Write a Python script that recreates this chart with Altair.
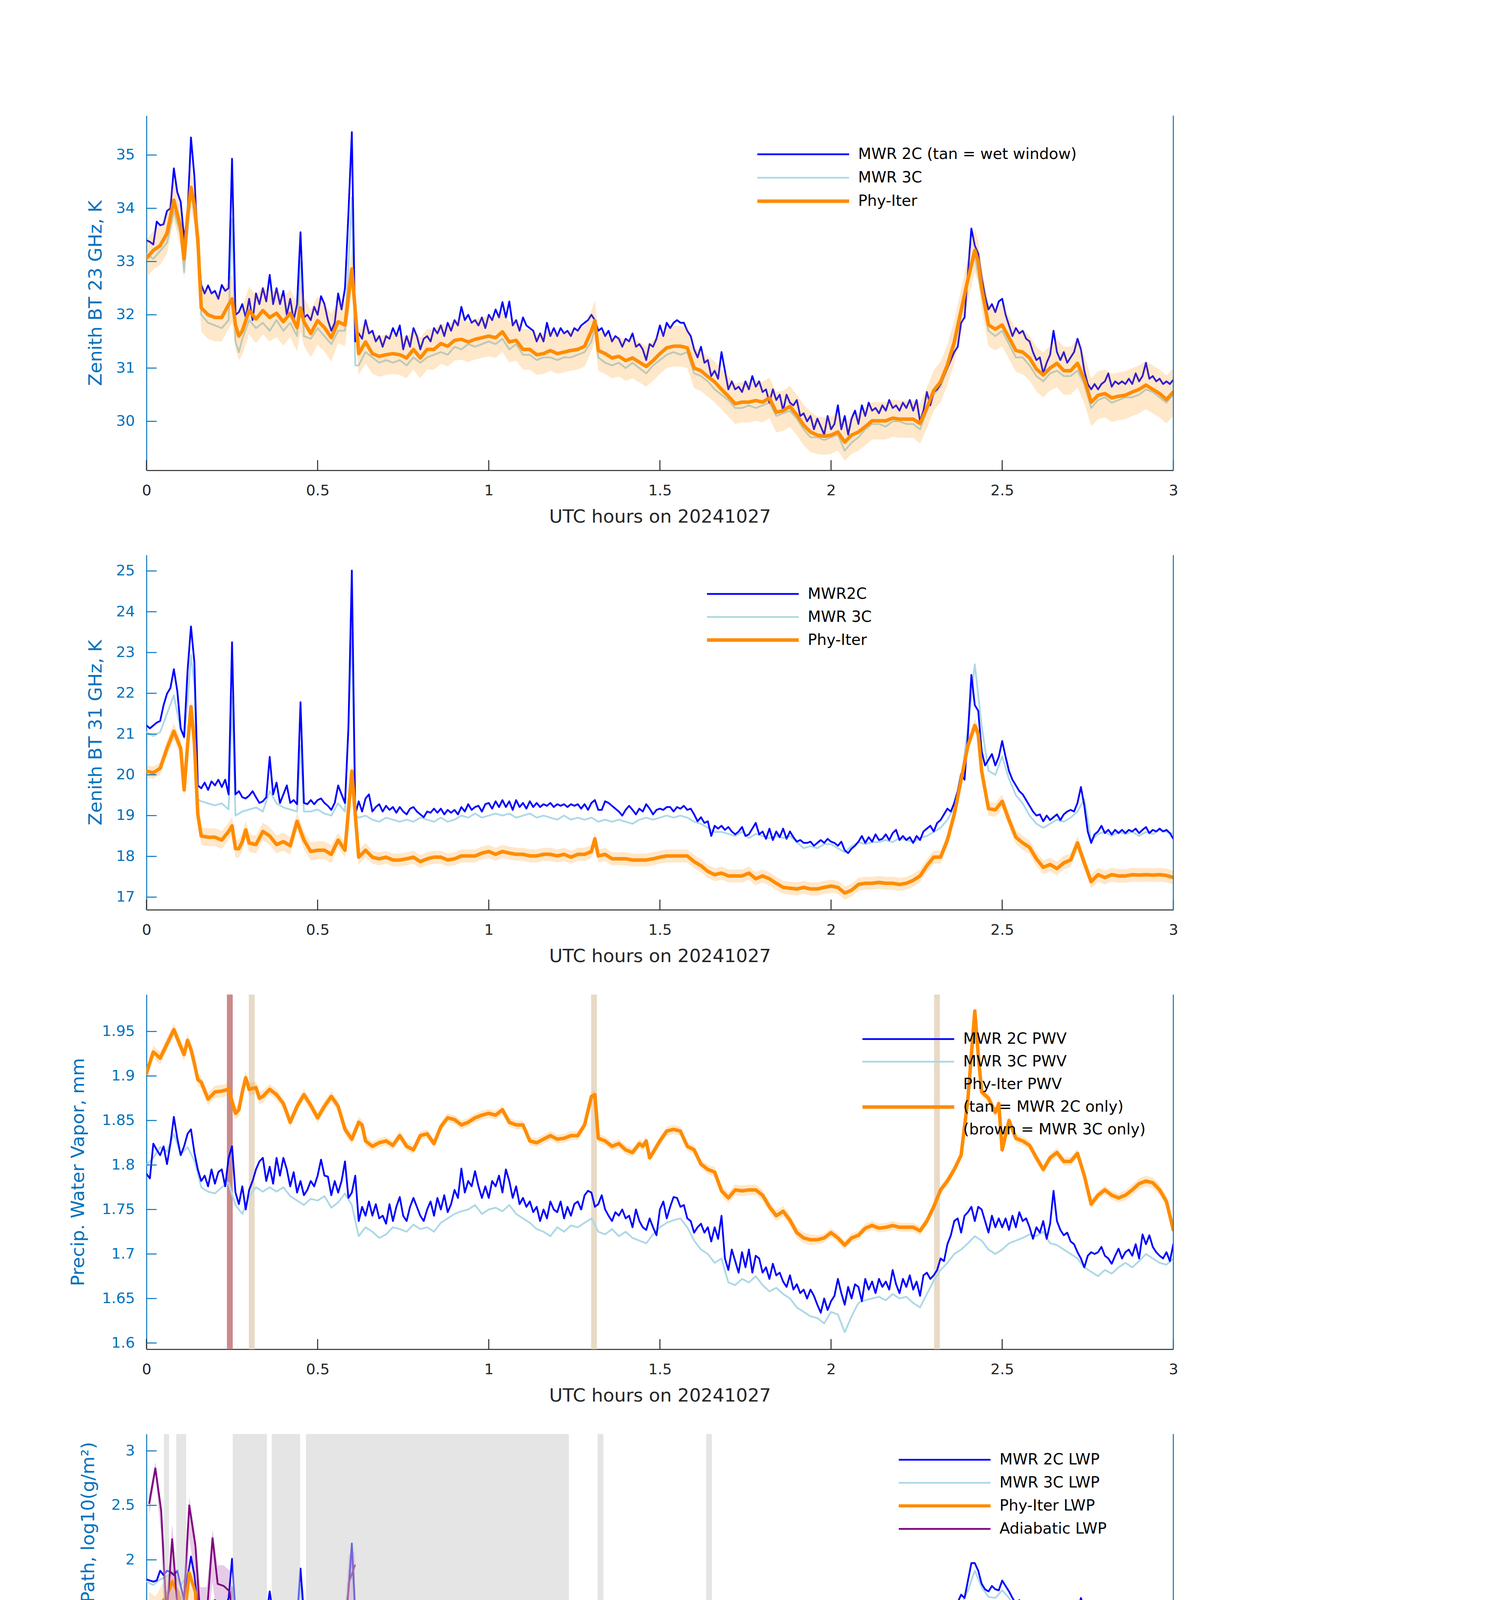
import altair as alt
import pandas as pd

W, H = 2629, 908
FONT = "DejaVu Sans"
AXC = "#0072BD"
DARK = "#262626"
BLUE = "#0000FF"
LBLUE = "#ADD8E6"
ORANGE = "#FF8C00"
PURPLE = "#800080"
TICK_LEN = 26
X_TICKS = [0, 0.5, 1, 1.5, 2, 2.5, 3]
X_TITLE = "UTC hours on 20241027"

# ---------------- Panel 1 : 23 GHz ----------------
P1_BLUE = [  # sampled every 0.01 h
    33.40,33.37,33.32,33.75,33.68,33.70,33.95,34.00,34.75,34.30,
    34.12,33.42,33.90,35.33,34.60,33.30,32.56,32.40,32.55,32.40,
    32.45,32.30,32.56,32.45,32.50,34.93,32.00,32.05,32.20,31.95,
    32.30,31.90,32.40,32.20,32.50,32.25,32.75,32.20,32.50,32.20,
    32.45,32.00,32.30,31.90,32.20,33.55,31.95,32.00,31.90,32.15,
    32.00,32.35,32.20,31.90,31.70,31.85,32.40,32.10,32.50,33.90,
    35.43,31.50,31.65,31.55,31.90,31.65,31.70,31.50,31.60,31.40,
    31.60,31.55,31.75,31.60,31.80,31.35,31.60,31.40,31.75,31.60,
    31.35,31.55,31.60,31.50,31.75,31.65,31.80,31.60,31.85,31.70,
    31.90,31.80,32.15,31.90,32.00,31.85,31.90,31.80,31.95,31.75,
    32.00,31.90,32.10,31.95,32.24,31.95,32.25,31.80,31.90,31.70,
    31.95,31.80,31.75,31.70,31.50,31.65,31.50,31.85,31.60,31.75,
    31.60,31.75,31.65,31.70,31.60,31.75,31.70,31.80,31.85,31.90,
    32.00,31.90,31.70,31.75,31.60,31.70,31.50,31.60,31.55,31.40,
    31.55,31.50,31.65,31.40,31.45,31.35,31.15,31.45,31.40,31.55,
    31.80,31.60,31.85,31.75,31.85,31.90,31.85,31.85,31.70,31.60,
    31.35,31.20,31.40,31.10,31.15,30.85,30.95,30.80,31.30,30.95,
    30.60,30.75,30.60,30.65,30.55,30.75,30.60,30.85,30.65,30.75,
    30.55,30.60,30.35,30.60,30.40,30.50,30.20,30.50,30.35,30.30,
    30.40,30.10,30.15,30.00,30.10,29.85,30.05,29.90,29.75,30.10,
    29.85,29.95,30.30,29.85,30.10,29.75,30.05,30.20,29.95,30.30,
    30.10,30.35,30.20,30.25,30.15,30.30,30.20,30.40,30.25,30.30,
    30.20,30.35,30.25,30.40,30.20,30.40,30.00,30.20,30.55,30.30,
    30.55,30.60,30.70,30.85,31.00,31.15,31.30,31.40,31.85,31.95,
    32.80,33.62,33.30,33.15,32.70,32.35,32.10,32.20,32.05,32.25,
    32.30,32.00,31.80,31.60,31.75,31.65,31.70,31.55,31.50,31.30,
    31.15,31.20,30.90,31.10,31.25,31.70,31.30,31.15,31.30,31.10,
    31.20,31.30,31.55,31.35,30.95,30.70,30.60,30.70,30.60,30.70,
    30.75,30.90,30.65,30.75,30.70,30.75,30.70,30.80,30.70,30.90,
    30.75,30.85,31.10,30.80,30.85,30.75,30.80,30.70,30.75,30.70,
    30.78]

P1_LB = [(0.00,33.15),(0.02,33.05),(0.04,33.20),(0.06,33.35),(0.08,33.95),(0.10,33.50),(0.11,32.80),
    (0.12,33.60),(0.13,34.30),(0.14,33.90),(0.15,33.20),(0.16,32.00),(0.18,31.85),(0.20,31.80),
    (0.22,31.75),(0.24,31.90),(0.25,33.80),(0.26,31.50),(0.27,31.30),(0.28,31.55),(0.30,31.90),
    (0.32,31.75),(0.34,31.85),(0.36,31.70),(0.38,31.90),(0.40,31.70),(0.42,31.85),(0.44,31.60),
    (0.45,33.00),(0.46,31.60),(0.48,31.55),(0.50,31.75),(0.52,31.60),(0.54,31.45),(0.56,31.70),
    (0.58,31.70),(0.60,34.20),(0.61,31.05),(0.62,31.05),(0.64,31.30),(0.66,31.20),(0.68,31.10),
    (0.70,31.15),(0.72,31.10),(0.74,31.15),(0.76,31.05),(0.78,31.20),(0.80,31.10),(0.82,31.20),
    (0.84,31.25),(0.86,31.30),(0.88,31.25),(0.90,31.40),(0.92,31.35),(0.94,31.45),(0.96,31.40),
    (0.98,31.45),(1.00,31.50),(1.02,31.45),(1.04,31.55),(1.06,31.35),(1.08,31.45),(1.10,31.25),
    (1.12,31.25),(1.14,31.15),(1.16,31.20),(1.18,31.20),(1.20,31.15),(1.22,31.20),(1.24,31.20),
    (1.26,31.25),(1.28,31.30),(1.30,31.50),(1.31,31.75),(1.32,31.20),(1.34,31.10),(1.36,31.05),
    (1.38,31.10),(1.40,31.00),(1.42,31.10),(1.44,31.00),(1.46,30.90),(1.48,31.05),(1.50,31.15),
    (1.52,31.25),(1.54,31.30),(1.56,31.25),(1.58,31.30),(1.60,30.90),(1.62,30.85),(1.64,30.75),
    (1.66,30.60),(1.68,30.50),(1.70,30.40),(1.72,30.25),(1.74,30.25),(1.76,30.30),(1.78,30.25),
    (1.80,30.30),(1.82,30.35),(1.84,30.10),(1.86,30.15),(1.88,30.20),(1.90,30.05),(1.92,29.85),
    (1.94,29.70),(1.96,29.70),(1.98,29.65),(2.00,29.70),(2.02,29.75),(2.04,29.45),(2.06,29.60),
    (2.08,29.70),(2.10,29.85),(2.12,29.95),(2.14,29.95),(2.16,29.90),(2.18,30.00),(2.20,30.00),
    (2.22,29.95),(2.24,29.95),(2.26,29.85),(2.28,30.20),(2.30,30.50),(2.32,30.65),(2.34,31.00),
    (2.36,31.40),(2.38,32.00),(2.40,32.60),(2.42,33.10),(2.44,32.40),(2.46,31.70),(2.48,31.60),
    (2.50,31.70),(2.52,31.45),(2.54,31.20),(2.56,31.20),(2.58,31.05),(2.60,30.85),(2.62,30.75),
    (2.64,30.90),(2.66,30.95),(2.68,30.85),(2.70,30.85),(2.72,30.95),(2.74,30.70),(2.76,30.25),
    (2.78,30.40),(2.80,30.45),(2.82,30.35),(2.84,30.40),(2.86,30.45),(2.88,30.45),(2.90,30.50),
    (2.92,30.60),(2.94,30.55),(2.96,30.45),(2.98,30.35),(3.00,30.50)]

P1_OR = [(0.00,33.06),(0.02,33.21),(0.04,33.30),(0.06,33.53),(0.08,34.15),(0.10,33.64),(0.11,33.05),
    (0.12,33.85),(0.13,34.39),(0.14,34.07),(0.15,33.42),(0.16,32.13),(0.18,32.00),(0.20,31.95),
    (0.22,31.95),(0.24,32.19),(0.25,32.30),(0.26,31.81),(0.27,31.60),(0.28,31.70),(0.30,32.08),
    (0.32,31.92),(0.34,32.08),(0.36,31.95),(0.38,32.03),(0.40,31.87),(0.42,32.03),(0.44,31.76),
    (0.45,32.13),(0.46,31.87),(0.48,31.65),(0.50,31.89),(0.52,31.76),(0.54,31.57),(0.56,31.87),
    (0.58,31.81),(0.60,32.86),(0.62,31.27),(0.64,31.49),(0.66,31.27),(0.68,31.22),(0.70,31.25),
    (0.72,31.27),(0.74,31.25),(0.76,31.19),(0.78,31.35),(0.80,31.19),(0.82,31.35),(0.84,31.35),
    (0.86,31.46),(0.88,31.41),(0.90,31.52),(0.92,31.54),(0.94,31.49),(0.96,31.54),(0.98,31.57),
    (1.00,31.60),(1.02,31.57),(1.04,31.68),(1.06,31.49),(1.08,31.52),(1.10,31.35),(1.12,31.35),
    (1.14,31.25),(1.16,31.27),(1.18,31.33),(1.20,31.27),(1.22,31.30),(1.24,31.33),(1.26,31.35),
    (1.28,31.41),(1.30,31.70),(1.31,31.89),(1.32,31.33),(1.34,31.27),(1.36,31.19),(1.38,31.22),
    (1.40,31.14),(1.42,31.19),(1.44,31.11),(1.46,31.03),(1.48,31.14),(1.50,31.27),(1.52,31.38),
    (1.54,31.41),(1.56,31.41),(1.58,31.38),(1.60,31.00),(1.62,30.95),(1.64,30.84),(1.66,30.74),
    (1.68,30.60),(1.70,30.47),(1.72,30.33),(1.74,30.36),(1.76,30.36),(1.78,30.39),(1.80,30.36),
    (1.82,30.44),(1.84,30.17),(1.86,30.20),(1.88,30.28),(1.90,30.12),(1.92,29.93),(1.94,29.80),
    (1.96,29.74),(1.98,29.72),(2.00,29.74),(2.02,29.80),(2.04,29.61),(2.06,29.74),(2.08,29.80),
    (2.10,29.90),(2.12,30.01),(2.14,30.01),(2.16,30.01),(2.18,30.06),(2.20,30.04),(2.22,30.04),
    (2.24,30.04),(2.26,29.96),(2.28,30.25),(2.30,30.58),(2.32,30.74),(2.34,31.06),(2.36,31.49),
    (2.38,32.08),(2.40,32.67),(2.42,33.21),(2.43,33.00),(2.44,32.51),(2.46,31.81),(2.48,31.73),
    (2.50,31.81),(2.52,31.57),(2.54,31.33),(2.56,31.30),(2.58,31.19),(2.60,30.98),(2.62,30.87),
    (2.64,31.00),(2.66,31.09),(2.68,30.95),(2.70,30.95),(2.72,31.09),(2.74,30.79),(2.76,30.36),
    (2.78,30.49),(2.80,30.52),(2.82,30.44),(2.84,30.47),(2.86,30.49),(2.88,30.55),(2.90,30.60),
    (2.92,30.68),(2.94,30.60),(2.96,30.52),(2.98,30.41),(3.00,30.55)]

P1_SIG = [0.36,0.38,0.45,0.45,0.45,0.45,0.40,0.38,0.38,0.38,0.38,0.38,0.38,0.38,0.38,0.38,
          0.38,0.38,0.38,0.38,0.35,0.35,0.35,0.38,0.40,0.40,0.42,0.45,0.45,0.45,0.45]

# ---------------- Panel 2 : 31 GHz ----------------
P2_BLUE = [
    21.21,21.14,21.21,21.28,21.32,21.71,21.99,22.13,22.59,22.06,
    21.14,20.93,22.55,23.64,22.76,19.74,19.67,19.81,19.63,19.84,
    19.74,19.88,19.70,19.88,19.52,23.25,19.52,19.60,19.45,19.42,
    19.49,19.60,19.45,19.31,19.35,19.45,20.44,19.52,19.81,19.31,
    19.52,19.74,19.31,19.38,19.28,21.78,19.31,19.28,19.38,19.28,
    19.38,19.42,19.31,19.24,19.14,19.31,19.74,19.52,19.31,21.14,
    25.01,19.03,19.35,19.10,19.42,19.52,19.10,19.21,19.28,19.10,
    19.24,19.14,19.21,19.07,19.21,19.10,19.03,19.17,19.21,19.10,
    19.03,18.96,19.10,19.07,19.17,19.07,19.17,19.03,19.14,19.07,
    19.14,19.03,19.21,19.10,19.28,19.14,19.21,19.24,19.10,19.28,
    19.31,19.17,19.35,19.21,19.38,19.21,19.35,19.14,19.38,19.21,
    19.31,19.17,19.35,19.21,19.31,19.21,19.28,19.24,19.31,19.21,
    19.28,19.24,19.28,19.21,19.28,19.24,19.28,19.17,19.28,19.14,
    19.31,19.38,19.14,19.14,19.35,19.31,19.24,19.17,19.10,19.00,
    19.14,19.24,19.14,19.03,19.17,19.10,19.28,19.17,19.03,19.14,
    19.17,19.14,19.21,19.21,19.10,19.21,19.17,19.24,19.14,19.17,
    19.03,18.86,18.96,18.82,18.86,18.50,18.75,18.68,18.75,18.65,
    18.72,18.61,18.54,18.61,18.72,18.50,18.54,18.68,18.82,18.54,
    18.61,18.43,18.68,18.40,18.61,18.47,18.68,18.43,18.61,18.47,
    18.36,18.40,18.33,18.33,18.36,18.26,18.33,18.40,18.33,18.43,
    18.36,18.33,18.26,18.36,18.15,18.08,18.19,18.26,18.36,18.50,
    18.33,18.47,18.36,18.54,18.40,18.43,18.54,18.40,18.57,18.65,
    18.40,18.50,18.40,18.47,18.33,18.50,18.40,18.61,18.68,18.75,
    18.61,18.82,18.89,19.03,19.17,19.10,19.31,19.60,20.02,19.88,
    21.00,22.45,21.71,21.57,20.58,20.23,20.37,20.51,20.23,20.44,
    20.83,20.44,20.09,19.88,19.74,19.60,19.52,19.38,19.24,19.10,
    19.00,19.03,18.86,19.00,18.89,18.96,19.03,18.89,19.03,19.10,
    19.14,19.10,19.31,19.70,19.24,18.61,18.33,18.54,18.61,18.75,
    18.57,18.65,18.54,18.65,18.57,18.65,18.57,18.65,18.61,18.68,
    18.57,18.65,18.72,18.57,18.65,18.61,18.68,18.61,18.65,18.57,
    18.43]

P2_LB = [(0.00,21.05),(0.02,20.95),(0.04,21.05),(0.06,21.50),(0.08,21.95),(0.10,21.10),(0.11,20.90),
    (0.12,21.80),(0.13,22.94),(0.14,22.20),(0.15,19.40),(0.16,19.35),(0.18,19.30),(0.20,19.25),
    (0.22,19.30),(0.24,19.15),(0.25,21.90),(0.26,19.00),(0.28,19.10),(0.30,19.15),(0.32,19.20),
    (0.34,19.10),(0.36,19.60),(0.38,19.30),(0.40,19.20),(0.42,19.15),(0.44,19.10),(0.45,20.72),
    (0.46,19.10),(0.48,19.10),(0.50,19.15),(0.52,19.05),(0.54,19.00),(0.56,19.30),(0.58,19.10),
    (0.60,23.47),(0.61,19.00),(0.62,18.95),(0.64,19.00),(0.66,18.90),(0.68,18.85),(0.70,18.95),
    (0.72,18.90),(0.74,18.85),(0.76,18.90),(0.78,18.85),(0.80,18.95),(0.82,18.90),(0.84,18.85),
    (0.86,18.95),(0.88,18.85),(0.90,18.90),(0.92,19.00),(0.94,18.95),(0.96,19.05),(0.98,18.95),
    (1.00,19.00),(1.02,19.05),(1.04,19.00),(1.06,19.05),(1.08,18.95),(1.10,19.00),(1.12,19.05),
    (1.14,18.95),(1.16,19.00),(1.18,18.95),(1.20,18.90),(1.22,19.00),(1.24,18.90),(1.26,18.95),
    (1.28,18.90),(1.30,18.95),(1.32,18.85),(1.34,18.90),(1.36,18.85),(1.38,18.90),(1.40,18.85),
    (1.42,18.80),(1.44,18.90),(1.46,18.95),(1.48,18.90),(1.50,18.95),(1.52,19.00),(1.54,18.95),
    (1.56,19.00),(1.58,18.95),(1.60,18.85),(1.62,18.80),(1.64,18.70),(1.66,18.60),(1.68,18.60),
    (1.70,18.55),(1.72,18.50),(1.74,18.60),(1.76,18.45),(1.78,18.55),(1.80,18.50),(1.82,18.45),
    (1.84,18.50),(1.86,18.45),(1.88,18.50),(1.90,18.35),(1.92,18.20),(1.94,18.25),(1.96,18.20),
    (1.98,18.30),(2.00,18.30),(2.02,18.20),(2.04,18.10),(2.06,18.25),(2.08,18.35),(2.10,18.30),
    (2.12,18.35),(2.14,18.35),(2.16,18.40),(2.18,18.35),(2.20,18.45),(2.22,18.40),(2.24,18.35),
    (2.26,18.45),(2.28,18.50),(2.30,18.60),(2.32,18.70),(2.34,18.90),(2.36,19.20),(2.38,19.80),
    (2.40,21.20),(2.42,22.71),(2.44,21.20),(2.46,20.10),(2.48,20.00),(2.50,20.45),(2.52,19.90),
    (2.54,19.50),(2.56,19.30),(2.58,19.00),(2.60,18.80),(2.62,18.70),(2.64,18.80),(2.66,18.90),
    (2.68,18.85),(2.70,18.95),(2.72,19.10),(2.74,19.40),(2.76,18.40),(2.78,18.55),(2.80,18.60),
    (2.82,18.50),(2.84,18.60),(2.86,18.55),(2.88,18.60),(2.90,18.50),(2.92,18.60),(2.94,18.55),
    (2.96,18.65),(2.98,18.60),(3.00,18.55)]

P2_OR = [(0.00,20.09),(0.02,20.05),(0.04,20.16),(0.06,20.65),(0.08,21.07),(0.10,20.65),(0.11,19.63),
    (0.12,20.72),(0.13,21.67),(0.14,20.79),(0.15,19.03),(0.16,18.50),(0.18,18.47),(0.20,18.47),
    (0.22,18.40),(0.24,18.61),(0.25,18.75),(0.26,18.19),(0.27,18.19),(0.28,18.36),(0.29,18.65),
    (0.30,18.33),(0.32,18.29),(0.34,18.61),(0.36,18.50),(0.38,18.29),(0.40,18.36),(0.42,18.26),
    (0.44,18.86),(0.46,18.40),(0.48,18.12),(0.50,18.15),(0.52,18.15),(0.54,18.05),(0.56,18.40),
    (0.58,18.15),(0.60,20.09),(0.61,19.03),(0.62,17.98),(0.64,18.15),(0.66,17.98),(0.68,17.94),
    (0.70,17.98),(0.72,17.91),(0.74,17.91),(0.76,17.94),(0.78,17.98),(0.80,17.87),(0.82,17.94),
    (0.84,17.98),(0.86,17.98),(0.88,17.91),(0.90,17.94),(0.92,18.01),(0.94,18.01),(0.96,18.01),
    (0.98,18.08),(1.00,18.12),(1.02,18.05),(1.04,18.12),(1.06,18.08),(1.08,18.05),(1.10,18.05),
    (1.12,18.01),(1.14,18.01),(1.16,18.05),(1.18,18.05),(1.20,18.01),(1.22,18.05),(1.24,17.98),
    (1.26,18.05),(1.28,18.05),(1.30,18.12),(1.31,18.43),(1.32,18.01),(1.34,18.05),(1.36,17.94),
    (1.38,17.94),(1.40,17.94),(1.42,17.91),(1.44,17.91),(1.46,17.91),(1.48,17.94),(1.50,17.98),
    (1.52,18.01),(1.54,18.01),(1.56,18.01),(1.58,18.01),(1.60,17.87),(1.62,17.77),(1.64,17.63),
    (1.66,17.55),(1.68,17.59),(1.70,17.52),(1.72,17.52),(1.74,17.52),(1.76,17.59),(1.78,17.45),
    (1.80,17.52),(1.82,17.45),(1.84,17.34),(1.86,17.24),(1.88,17.22),(1.90,17.20),(1.92,17.24),
    (1.94,17.20),(1.96,17.20),(1.98,17.24),(2.00,17.27),(2.02,17.24),(2.04,17.10),(2.06,17.17),
    (2.08,17.31),(2.10,17.34),(2.12,17.34),(2.14,17.36),(2.16,17.34),(2.18,17.34),(2.20,17.31),
    (2.22,17.34),(2.24,17.41),(2.26,17.52),(2.28,17.77),(2.30,17.98),(2.32,17.98),(2.34,18.40),
    (2.36,19.03),(2.38,19.88),(2.40,20.72),(2.42,21.21),(2.43,21.00),(2.44,20.09),(2.46,19.17),
    (2.48,19.14),(2.50,19.35),(2.52,18.89),(2.54,18.47),(2.56,18.33),(2.58,18.22),(2.60,17.94),
    (2.62,17.73),(2.64,17.80),(2.66,17.70),(2.68,17.84),(2.70,17.91),(2.72,18.33),(2.74,17.84),
    (2.76,17.38),(2.78,17.55),(2.80,17.48),(2.82,17.55),(2.84,17.52),(2.86,17.52),(2.88,17.55),
    (2.90,17.54),(2.92,17.55),(2.94,17.54),(2.96,17.55),(2.98,17.53),(3.00,17.48)]

P2_SIG = [0.15,0.20,0.22,0.22,0.22,0.22,0.18,0.16,0.16,0.16,0.16,0.16,0.16,0.16,0.16,0.16,
          0.16,0.16,0.16,0.16,0.16,0.16,0.16,0.16,0.17,0.17,0.17,0.17,0.17,0.17,0.17]

# ---------------- Panel 3 : PWV ----------------
P3_BLUE = [
    1.790,1.785,1.824,1.817,1.811,1.821,1.801,1.824,1.854,1.830,
    1.811,1.821,1.835,1.840,1.814,1.795,1.782,1.788,1.776,1.795,
    1.779,1.792,1.795,1.776,1.808,1.821,1.769,1.756,1.776,1.750,
    1.772,1.782,1.795,1.804,1.808,1.782,1.798,1.779,1.808,1.788,
    1.808,1.795,1.776,1.792,1.769,1.782,1.766,1.772,1.782,1.776,
    1.788,1.806,1.788,1.787,1.766,1.782,1.769,1.782,1.804,1.763,
    1.769,1.788,1.737,1.753,1.743,1.759,1.743,1.756,1.740,1.743,
    1.734,1.756,1.737,1.753,1.764,1.743,1.737,1.753,1.763,1.753,
    1.743,1.737,1.750,1.759,1.743,1.763,1.750,1.766,1.747,1.756,
    1.772,1.763,1.796,1.769,1.782,1.776,1.793,1.776,1.763,1.776,
    1.763,1.782,1.776,1.788,1.769,1.795,1.782,1.763,1.776,1.756,
    1.763,1.753,1.759,1.747,1.753,1.737,1.750,1.740,1.759,1.750,
    1.747,1.759,1.740,1.753,1.743,1.756,1.759,1.750,1.766,1.771,
    1.769,1.753,1.756,1.766,1.750,1.743,1.737,1.747,1.743,1.750,
    1.740,1.743,1.730,1.750,1.737,1.730,1.727,1.740,1.730,1.721,
    1.750,1.759,1.740,1.753,1.764,1.763,1.753,1.755,1.740,1.737,
    1.724,1.730,1.734,1.724,1.730,1.714,1.730,1.717,1.743,1.695,
    1.682,1.705,1.692,1.679,1.702,1.685,1.705,1.679,1.698,1.695,
    1.679,1.685,1.672,1.689,1.676,1.679,1.669,1.663,1.676,1.660,
    1.666,1.656,1.660,1.650,1.660,1.653,1.643,1.634,1.650,1.637,
    1.647,1.653,1.672,1.656,1.643,1.663,1.650,1.666,1.663,1.647,
    1.672,1.660,1.669,1.656,1.672,1.663,1.669,1.660,1.682,1.666,
    1.656,1.672,1.663,1.676,1.660,1.669,1.653,1.676,1.679,1.672,
    1.676,1.682,1.695,1.692,1.711,1.721,1.737,1.740,1.724,1.743,
    1.747,1.753,1.737,1.753,1.750,1.737,1.724,1.743,1.730,1.740,
    1.730,1.740,1.727,1.743,1.730,1.747,1.737,1.740,1.730,1.717,
    1.730,1.724,1.737,1.717,1.734,1.771,1.737,1.727,1.721,1.724,
    1.714,1.711,1.702,1.695,1.685,1.698,1.702,1.700,1.702,1.708,
    1.698,1.695,1.689,1.698,1.706,1.695,1.702,1.705,1.698,1.711,
    1.695,1.722,1.711,1.721,1.708,1.702,1.698,1.695,1.702,1.692,
    1.711]

P3_LB = [(0.00,1.800),(0.02,1.808),(0.04,1.820),(0.06,1.815),(0.08,1.835),(0.10,1.812),(0.12,1.820),
    (0.14,1.805),(0.16,1.775),(0.18,1.770),(0.20,1.768),(0.22,1.775),(0.24,1.780),(0.26,1.755),
    (0.28,1.745),(0.30,1.765),(0.32,1.775),(0.34,1.770),(0.36,1.775),(0.38,1.770),(0.40,1.775),
    (0.42,1.765),(0.44,1.760),(0.46,1.755),(0.48,1.762),(0.50,1.760),(0.52,1.765),(0.54,1.752),
    (0.56,1.758),(0.58,1.768),(0.60,1.755),(0.62,1.720),(0.64,1.730),(0.66,1.725),(0.68,1.718),
    (0.70,1.722),(0.72,1.730),(0.74,1.728),(0.76,1.725),(0.78,1.733),(0.80,1.728),(0.82,1.730),
    (0.84,1.725),(0.86,1.735),(0.88,1.740),(0.90,1.745),(0.92,1.748),(0.94,1.750),(0.96,1.755),
    (0.98,1.745),(1.00,1.750),(1.02,1.752),(1.04,1.748),(1.06,1.755),(1.08,1.745),(1.10,1.740),
    (1.12,1.735),(1.14,1.728),(1.16,1.725),(1.18,1.720),(1.20,1.730),(1.22,1.725),(1.24,1.732),
    (1.26,1.730),(1.28,1.735),(1.30,1.740),(1.32,1.725),(1.34,1.722),(1.36,1.728),(1.38,1.720),
    (1.40,1.725),(1.42,1.718),(1.44,1.715),(1.46,1.712),(1.48,1.722),(1.50,1.730),(1.52,1.735),
    (1.54,1.738),(1.56,1.740),(1.58,1.730),(1.60,1.715),(1.62,1.705),(1.64,1.700),(1.66,1.690),
    (1.68,1.695),(1.70,1.668),(1.72,1.665),(1.74,1.672),(1.76,1.668),(1.78,1.675),(1.80,1.665),
    (1.82,1.658),(1.84,1.662),(1.86,1.655),(1.88,1.650),(1.90,1.640),(1.92,1.635),(1.94,1.630),
    (1.96,1.628),(1.98,1.622),(2.00,1.635),(2.02,1.632),(2.04,1.612),(2.06,1.630),(2.08,1.645),
    (2.10,1.648),(2.12,1.650),(2.14,1.652),(2.16,1.648),(2.18,1.655),(2.20,1.650),(2.22,1.652),
    (2.24,1.645),(2.26,1.640),(2.28,1.655),(2.30,1.670),(2.32,1.682),(2.34,1.690),(2.36,1.700),
    (2.38,1.705),(2.40,1.712),(2.42,1.720),(2.44,1.715),(2.46,1.705),(2.48,1.700),(2.50,1.705),
    (2.52,1.712),(2.54,1.715),(2.56,1.718),(2.58,1.722),(2.60,1.720),(2.62,1.725),(2.64,1.712),
    (2.66,1.710),(2.68,1.705),(2.70,1.700),(2.72,1.695),(2.74,1.685),(2.76,1.680),(2.78,1.675),
    (2.80,1.682),(2.82,1.678),(2.84,1.685),(2.86,1.690),(2.88,1.685),(2.90,1.692),(2.92,1.700),
    (2.94,1.695),(2.96,1.690),(2.98,1.688),(3.00,1.695)]

P3_OR = [(0.00,1.903),(0.02,1.927),(0.04,1.920),(0.06,1.936),(0.08,1.952),(0.10,1.933),(0.11,1.924),
    (0.12,1.940),(0.13,1.930),(0.14,1.914),(0.15,1.896),(0.16,1.893),(0.18,1.874),(0.20,1.882),
    (0.22,1.883),(0.24,1.885),(0.26,1.858),(0.27,1.862),(0.28,1.882),(0.29,1.898),(0.30,1.885),
    (0.32,1.887),(0.33,1.875),(0.34,1.877),(0.36,1.885),(0.38,1.879),(0.40,1.869),(0.42,1.848),
    (0.44,1.866),(0.46,1.879),(0.48,1.867),(0.50,1.853),(0.52,1.866),(0.54,1.877),(0.56,1.866),
    (0.58,1.840),(0.60,1.829),(0.62,1.848),(0.63,1.845),(0.64,1.827),(0.66,1.821),(0.68,1.825),
    (0.70,1.827),(0.72,1.822),(0.74,1.833),(0.76,1.821),(0.78,1.817),(0.80,1.833),(0.82,1.835),
    (0.84,1.824),(0.86,1.843),(0.88,1.853),(0.90,1.851),(0.92,1.845),(0.94,1.848),(0.96,1.853),
    (0.98,1.856),(1.00,1.858),(1.02,1.856),(1.04,1.862),(1.06,1.848),(1.08,1.845),(1.10,1.845),
    (1.12,1.827),(1.14,1.825),(1.16,1.829),(1.18,1.833),(1.20,1.829),(1.22,1.830),(1.24,1.833),
    (1.26,1.833),(1.28,1.845),(1.30,1.877),(1.31,1.879),(1.32,1.830),(1.34,1.827),(1.36,1.821),
    (1.38,1.824),(1.40,1.817),(1.42,1.814),(1.44,1.824),(1.45,1.821),(1.46,1.827),(1.47,1.808),
    (1.48,1.814),(1.50,1.827),(1.52,1.838),(1.54,1.840),(1.56,1.838),(1.58,1.821),(1.60,1.817),
    (1.62,1.801),(1.64,1.795),(1.66,1.792),(1.68,1.771),(1.70,1.763),(1.72,1.772),(1.74,1.771),
    (1.76,1.772),(1.78,1.772),(1.80,1.766),(1.82,1.753),(1.84,1.743),(1.86,1.748),(1.88,1.738),
    (1.90,1.724),(1.92,1.718),(1.94,1.716),(1.96,1.716),(1.98,1.718),(2.00,1.724),(2.02,1.718),
    (2.04,1.710),(2.06,1.718),(2.08,1.721),(2.10,1.729),(2.12,1.732),(2.14,1.729),(2.16,1.730),
    (2.18,1.732),(2.20,1.730),(2.22,1.730),(2.24,1.730),(2.26,1.726),(2.28,1.737),(2.30,1.753),
    (2.32,1.772),(2.34,1.782),(2.36,1.795),(2.38,1.811),(2.40,1.875),(2.41,1.924),(2.42,1.973),
    (2.43,1.924),(2.44,1.882),(2.46,1.875),(2.48,1.859),(2.49,1.869),(2.50,1.817),(2.52,1.850),
    (2.54,1.830),(2.56,1.827),(2.58,1.822),(2.60,1.808),(2.62,1.795),(2.64,1.808),(2.66,1.814),
    (2.68,1.804),(2.70,1.804),(2.72,1.813),(2.74,1.788),(2.76,1.756),(2.78,1.766),(2.80,1.772),
    (2.82,1.766),(2.84,1.763),(2.86,1.766),(2.88,1.772),(2.90,1.779),(2.92,1.782),(2.94,1.780),
    (2.96,1.772),(2.98,1.759),(3.00,1.727)]

P3_SIG = [0.007,0.007,0.007,0.007,0.006,0.006,0.006,0.005,0.005,0.005,0.005,0.005,0.005,0.005,
          0.005,0.005,0.005,0.006,0.006,0.006,0.005,0.005,0.005,0.005,0.005,0.005,0.005,0.005,
          0.005,0.006,0.006]

P3_TAN = [(0.299, 0.316), (1.299, 1.316), (2.301, 2.318)]
P3_BROWN = [(0.235, 0.252)]

# ---------------- Panel 4 : LWP ----------------
P4_BLUE = [
    1.82,1.81,1.80,1.81,1.90,1.86,1.90,1.89,1.86,1.90,
    1.76,1.63,1.84,2.03,1.86,1.55,1.59,1.60,1.52,1.61,
    1.63,1.60,1.61,1.56,1.65,2.01,1.52,1.56,1.52,1.55,
    1.52,1.55,1.49,1.51,1.49,1.48,1.71,1.49,1.57,1.47,
    1.56,1.52,1.48,1.49,1.47,1.92,1.49,1.47,1.51,1.49,
    1.48,1.51,1.47,1.49,1.46,1.49,1.57,1.49,1.47,1.71,
    2.15,1.52,1.49,1.52,1.49,1.47,1.52,1.48,1.51,1.47,
    1.49,1.46,1.48,1.47,1.49,1.46,1.48,1.44,1.49,1.46,
    1.48,1.44,1.48,1.46,1.49,1.46,1.48,1.44,1.46,1.43,
    1.49,1.42,1.48,1.46,1.52,1.47,1.49,1.48,1.46,1.52,
    1.49,1.46,1.52,1.47,1.49,1.46,1.52,1.47,1.51,1.47,
    1.52,1.49,1.51,1.48,1.52,1.49,1.51,1.48,1.52,1.49,
    1.52,1.51,1.49,1.52,1.51,1.48,1.47,1.49,1.46,1.48,
    1.44,1.55,1.47,1.46,1.49,1.55,1.52,1.48,1.46,1.49,
    1.52,1.46,1.49,1.47,1.44,1.47,1.52,1.48,1.46,1.49,
    1.47,1.49,1.46,1.48,1.46,1.47,1.48,1.47,1.46,1.49,
    1.46,1.44,1.46,1.43,1.44,1.27,1.36,1.38,1.40,1.36,
    1.46,1.36,1.40,1.38,1.43,1.36,1.42,1.39,1.47,1.36,
    1.42,1.38,1.40,1.39,1.42,1.38,1.43,1.38,1.39,1.34,
    1.36,1.34,1.31,1.34,1.32,1.31,1.34,1.40,1.39,1.40,
    1.38,1.39,1.32,1.30,1.31,1.28,1.31,1.32,1.31,1.38,
    1.34,1.31,1.42,1.35,1.32,1.39,1.42,1.34,1.30,1.44,
    1.31,1.36,1.30,1.34,1.28,1.36,1.38,1.44,1.42,1.46,
    1.42,1.47,1.52,1.48,1.55,1.52,1.59,1.61,1.68,1.65,
    1.81,1.97,1.97,1.90,1.78,1.73,1.71,1.76,1.73,1.72,
    1.81,1.76,1.71,1.65,1.60,1.63,1.57,1.57,1.52,1.49,
    1.42,1.49,1.42,1.44,1.49,1.39,1.46,1.49,1.44,1.49,
    1.52,1.49,1.52,1.65,1.55,1.52,1.34,1.26,1.36,1.40,
    1.36,1.44,1.38,1.42,1.40,1.36,1.42,1.39,1.40,1.39,
    1.42,1.36,1.40,1.39,1.35,1.40,1.38,1.42,1.38,1.40,
    1.34]

P4_LB = [(0.00,1.80),(0.02,1.77),(0.04,1.82),(0.06,1.85),(0.08,1.88),(0.10,1.76),(0.12,1.87),
    (0.13,2.00),(0.14,1.85),(0.16,1.45),(0.18,1.44),(0.20,1.46),(0.22,1.42),(0.24,1.43),
    (0.25,1.75),(0.26,1.40),(0.28,1.42),(0.30,1.41),(0.32,1.40),(0.34,1.41),(0.36,1.45),
    (0.38,1.40),(0.40,1.38),(0.42,1.39),(0.44,1.38),(0.45,1.77),(0.46,1.40),(0.48,1.37),
    (0.50,1.38),(0.52,1.37),(0.54,1.36),(0.56,1.40),(0.58,1.38),(0.60,2.07),(0.61,1.42),
    (0.62,1.38),(0.64,1.37),(0.66,1.36),(0.68,1.37),(0.70,1.38),(0.72,1.36),(0.74,1.35),
    (0.76,1.36),(0.78,1.35),(0.80,1.36),(0.82,1.35),(0.84,1.34),(0.86,1.36),(0.88,1.35),
    (0.90,1.36),(0.92,1.37),(0.94,1.38),(0.96,1.37),(0.98,1.38),(1.00,1.39),(1.02,1.38),
    (1.04,1.39),(1.06,1.38),(1.08,1.39),(1.10,1.38),(1.12,1.37),(1.14,1.38),(1.16,1.39),
    (1.18,1.38),(1.20,1.39),(1.22,1.40),(1.24,1.39),(1.26,1.40),(1.28,1.39),(1.30,1.41),
    (1.32,1.39),(1.34,1.41),(1.36,1.40),(1.38,1.39),(1.40,1.41),(1.42,1.39),(1.44,1.38),
    (1.46,1.41),(1.48,1.39),(1.50,1.40),(1.52,1.38),(1.54,1.39),(1.56,1.40),(1.58,1.39),
    (1.60,1.38),(1.62,1.36),(1.64,1.38),(1.66,1.33),(1.68,1.35),(1.70,1.33),(1.72,1.34),
    (1.74,1.32),(1.76,1.35),(1.78,1.33),(1.80,1.32),(1.82,1.34),(1.84,1.33),(1.86,1.32),
    (1.88,1.33),(1.90,1.31),(1.92,1.30),(1.94,1.31),(1.96,1.30),(1.98,1.29),(2.00,1.30),
    (2.02,1.28),(2.04,1.27),(2.06,1.30),(2.08,1.29),(2.10,1.30),(2.12,1.31),(2.14,1.30),
    (2.16,1.32),(2.18,1.31),(2.20,1.30),(2.22,1.31),(2.24,1.30),(2.26,1.32),(2.28,1.34),
    (2.30,1.38),(2.32,1.42),(2.34,1.45),(2.36,1.50),(2.38,1.58),(2.40,1.72),(2.42,1.90),
    (2.44,1.75),(2.46,1.66),(2.48,1.65),(2.50,1.72),(2.52,1.65),(2.54,1.55),(2.56,1.50),
    (2.58,1.44),(2.60,1.40),(2.62,1.32),(2.64,1.36),(2.66,1.38),(2.68,1.40),(2.70,1.42),
    (2.72,1.48),(2.74,1.52),(2.76,1.32),(2.78,1.31),(2.80,1.33),(2.82,1.32),(2.84,1.34),
    (2.86,1.33),(2.88,1.35),(2.90,1.33),(2.92,1.32),(2.94,1.34),(2.96,1.32),(2.98,1.33),
    (3.00,1.34)]

# (time, value, low, high, segment)
P4_PUR = [(0.008,2.52,2.41,2.60,1),(0.026,2.84,2.78,2.90,1),(0.043,2.45,2.20,2.52,1),
    (0.059,1.49,0.90,1.62,1),(0.075,2.19,1.60,2.33,1),(0.093,1.49,0.95,1.62,1),
    (0.109,1.61,1.10,1.72,1),(0.125,2.50,2.20,2.58,1),(0.143,2.13,1.80,2.22,1),
    (0.157,1.49,1.30,1.75,1),(0.176,1.49,1.30,1.75,1),(0.193,2.20,1.80,2.28,1),
    (0.208,1.78,1.40,1.95,1),(0.226,1.76,1.30,1.95,1),(0.243,1.71,0.90,1.90,1),
    (0.259,1.25,0.80,1.60,1),
    (0.359,1.50,0.90,1.72,2),(0.375,1.01,0.45,1.35,2),(0.442,1.01,0.40,1.36,2),(0.459,1.57,0.90,1.75,2),
    (0.560,1.02,0.43,1.37,3),(0.577,1.03,0.43,1.37,3),(0.591,1.79,1.20,2.05,3),(0.609,1.95,1.60,2.08,3),
    (0.660,1.02,0.42,1.37,4),(0.675,1.02,0.42,1.37,4)]

P4_OR = [(0.008,1.57,1.42,1.71,1),(0.026,1.49,1.17,1.66,1),(0.041,1.60,1.35,1.75,1),
    (0.059,1.66,1.40,1.83,1),(0.075,1.80,1.55,1.90,1),(0.093,1.70,1.30,1.85,1),
    (0.109,1.41,0.90,1.65,1),(0.125,1.88,1.60,1.98,1),(0.143,1.70,1.40,1.85,1),
    (0.157,0.22,-0.5,1.09,1),(0.169,-0.5,-0.5,1.15,1),(0.181,-0.5,-0.5,1.20,1),
    (0.193,0.80,-0.5,1.20,1),(0.208,0.35,-0.5,1.27,1),(0.219,-0.5,-0.5,1.25,1),
    (0.232,-0.5,-0.5,1.23,1),(0.241,0.79,-0.5,1.40,1),(0.259,1.02,0.40,1.45,1),
    (0.356,0.95,-0.5,1.20,2),(0.377,0.79,-0.5,1.20,2),(0.386,-0.5,-0.5,1.20,2),
    (0.397,-0.5,-0.5,1.20,2),(0.408,0.60,-0.5,1.20,2),(0.417,-0.5,-0.5,1.20,2),
    (0.429,-0.5,-0.5,1.20,2),(0.440,1.16,-0.5,1.25,2),(0.458,1.14,0.90,1.30,2),
    (0.556,0.69,-0.5,0.80,3),(0.564,-0.5,-0.5,0.80,3),(0.582,-0.5,-0.5,0.80,3),
    (0.591,1.61,-0.5,1.65,3),(0.611,1.14,-0.5,1.20,3),
    (0.657,0.26,-0.5,0.80,4),(0.661,-0.5,-0.5,0.80,4)]

P4_MARK_T = [0.510, 0.705, 0.843, 0.893, 1.040]
P4_MARK_V = [1.02, 1.03, 1.04, 1.06, 1.06]
P4_MARK_PLO = [0.42, 0.43, 0.44, 0.45, 0.46]
P4_MARK_PHI = [1.37, 1.37, 1.37, 1.37, 1.37]
P4_MARK_OLO = [-0.5, -0.5, -0.5, -0.5, -0.5]
P4_MARK_OHI = [0.80, 0.80, 0.80, 0.80, 0.80]

P4_GRAY = [(0.051,0.066),(0.087,0.116),(0.252,0.352),(0.366,0.449),(0.466,1.234),(1.318,1.335),(1.635,1.652)]

# ---------------- Panel 5 : DQ flag, one sample per minute, centred on the minute ('.' = none) ----------------
P5_FLAGS = ("0004044" "00000000" "4" "33333" "0" "44444" "0" "3343344" "34334434"
            "3333333" "4334" "33333333" "4" "33333333333" "00000" "3"
            "0000000000" "00000000" "3"
            "0000000000" "0000000000" "0000000000" "0000000000" "0000000000" "0"
            "6" "0000000000" "0000000000" "000000000" "6")
P5_MINUTES_PER_HOUR = 60
P5_OFFSET_MIN = 0.5

# ============ helpers ============
XS = alt.Scale(domain=[0, 3], nice=False, zero=False)


def xaxis():
    return alt.Axis(values=X_TICKS, format=".1~f", title=X_TITLE, titleFont=FONT, titleFontSize=47,
                    titleFontWeight="normal", titleColor=DARK, titleY=133, titleBaseline="alphabetic",
                    labelFont=FONT, labelFontSize=38, labelColor=DARK, labelBaseline="alphabetic",
                    labelPadding=63, labelFlush=False, labelOverlap=False, ticks=False, tickSize=0,
                    domainColor=DARK, domainWidth=2.5, grid=False)


def yaxis(vals, fmt, title, tx):
    return alt.Axis(values=vals, format=fmt, title=title, titleFont=FONT, titleFontSize=47,
                    titleFontWeight="normal", titleColor=AXC, titleX=tx, titleY=H / 2, titleAngle=270,
                    titleBaseline="alphabetic", titleAlign="center", labelFont=FONT, labelFontSize=38,
                    labelColor=AXC, labelPadding=30, labelOverlap=False, ticks=False, tickSize=0,
                    domainColor=AXC, domainWidth=2.5, grid=False)


def legend(lx, ly, rp):
    return alt.Legend(orient="none", legendX=lx, legendY=ly, title=None, symbolType="M-10,0H10",
                      symbolSize=552.25, labelFont=FONT, labelFontSize=39, labelColor="black",
                      labelOffset=121, labelLimit=3000, rowPadding=rp, padding=0, symbolOffset=0)


def unzip(pairs):
    return [p[0] for p in pairs], [p[1] for p in pairs]


def grid(vals):
    return [i / 100 for i in range(len(vals))]


def line_df(t, v, key, seg=1):
    return pd.DataFrame({"t": t, "v": v, "s": key, "g": seg})


def band_df(pairs, sig):
    t, v = unzip(pairs)
    s = [sig[min(len(sig) - 1, int(round(x * 10)))] for x in t]
    return pd.DataFrame({"t": t, "lo": [a - b for a, b in zip(v, s)], "hi": [a + b for a, b in zip(v, s)], "g": 1})


class Panel:
    def __init__(self, ydom, yvals, yfmt, ytitle, tx, keys=None, cols=None, widths=None, leg=None):
        self.ys = alt.Scale(domain=ydom, nice=False, zero=False)
        self.ya = yaxis(yvals, yfmt, ytitle, tx)
        self.yvals = yvals
        if keys:
            self.cs = alt.Scale(type="ordinal", domain=keys, range=cols)
            self.ws = alt.Scale(type="ordinal", domain=keys, range=widths)
        self.leg = leg
        self.layers = []

    def x(self, f="t"):
        return alt.X(f"{f}:Q", scale=XS, axis=xaxis())

    def y(self, f="v"):
        return alt.Y(f"{f}:Q", scale=self.ys, axis=self.ya)

    def line(self, df):
        self.layers.append(alt.Chart(df).mark_line(clip=True, strokeJoin="round", strokeCap="round").encode(
            x=self.x(), y=self.y(),
            color=alt.Color("s:N", scale=self.cs, legend=self.leg),
            strokeWidth=alt.StrokeWidth("s:N", scale=self.ws, legend=self.leg),
            detail="g:N"))

    def band(self, df, color, op):
        self.layers.append(alt.Chart(df).mark_area(clip=True, color=color, opacity=op).encode(
            x=self.x(), y=self.y("lo"), y2="hi:Q", detail="g:N"))

    def spans(self, spans, color, op):
        df = pd.DataFrame({"a": [s[0] for s in spans], "b": [s[1] for s in spans]})
        self.layers.append(alt.Chart(df).mark_rect(color=color, opacity=op).encode(x=self.x("a"), x2="b:Q"))

    def vbars(self, t, lo, hi, color, op, w):
        df = pd.DataFrame({"t": t, "lo": lo, "hi": hi})
        self.layers.append(alt.Chart(df).mark_rule(clip=True, color=color, opacity=op, strokeWidth=w).encode(
            x=self.x(), y=self.y("lo"), y2="hi:Q"))

    def chart(self):
        xt = alt.Chart(pd.DataFrame({"t": X_TICKS})).mark_rule(color=DARK, strokeWidth=2.5).encode(
            x=self.x(), y=alt.value(H), y2=alt.value(H - TICK_LEN))
        yt = alt.Chart(pd.DataFrame({"v": self.yvals})).mark_rule(color=AXC, strokeWidth=2.5).encode(
            y=self.y(), x=alt.value(0), x2=alt.value(TICK_LEN))
        rr = alt.Chart(pd.DataFrame({"t": [3]})).mark_rule(color=AXC, strokeWidth=2.5).encode(x=self.x())
        return alt.layer(*self.layers, xt, yt, rr).properties(width=W, height=H)


# ============ Panel 1 ============
k1 = ["MWR 2C (tan = wet window)", "MWR 3C", "Phy-Iter"]
p1 = Panel([29.08, 35.74], [30, 31, 32, 33, 34, 35], "d", "Zenith BT 23 GHz, K", -116,
           k1, [BLUE, LBLUE, ORANGE], [4.5, 4.5, 9], legend(1662, 79.5, 20))
t, v = unzip(P1_LB); p1.line(line_df(t, v, k1[1]))
p1.line(line_df(grid(P1_BLUE), P1_BLUE, k1[0]))
p1.band(band_df(P1_OR, P1_SIG), ORANGE, 0.21)
t, v = unzip(P1_OR); p1.line(line_df(t, v, k1[2]))

# ============ Panel 2 ============
k2 = ["MWR2C", "MWR 3C", "Phy-Iter"]
p2 = Panel([16.69, 25.39], [17, 18, 19, 20, 21, 22, 23, 24, 25], "d", "Zenith BT 31 GHz, K", -116,
           k2, [BLUE, LBLUE, ORANGE], [4.5, 4.5, 9], legend(1533, 80, 19))
t, v = unzip(P2_LB); p2.line(line_df(t, v, k2[1]))
p2.line(line_df(grid(P2_BLUE), P2_BLUE, k2[0]))
p2.band(band_df(P2_OR, P2_SIG), ORANGE, 0.21)
t, v = unzip(P2_OR); p2.line(line_df(t, v, k2[2]))

# ============ Panel 3 ============
k3 = ["MWR 2C PWV", "MWR 3C PWV", "Phy-Iter PWV", "(tan = MWR 2C only)", "(brown = MWR 3C only)"]
p3 = Panel([1.593, 1.9915], [1.6, 1.65, 1.7, 1.75, 1.8, 1.85, 1.9, 1.95], ".2~f",
           "Precip. Water Vapor, mm", -161,
           k3, [BLUE, LBLUE, "transparent", ORANGE, "transparent"], [4.5, 4.5, 0, 9, 0],
           legend(1931, 94.5, 18))
p3.spans(P3_BROWN, "#C98B8B", 1)
p3.spans(P3_TAN, "#E8DAC6", 1)
t, v = unzip(P3_LB); p3.line(line_df(t, v, k3[1]))
p3.line(line_df(grid(P3_BLUE), P3_BLUE, k3[0]))
p3.band(band_df(P3_OR, P3_SIG), ORANGE, 0.21)
t, v = unzip(P3_OR); p3.line(line_df(t, v, k3[3]))

# ============ Panel 4 ============
k4 = ["MWR 2C LWP", "MWR 3C LWP", "Phy-Iter LWP", "Adiabatic LWP"]
p4 = Panel([-0.1, 3.155], [0, 0.5, 1, 1.5, 2, 2.5, 3], ".1~f",
           "log10 Liquid Water Path, log10(g/m\u00b2)", -135,
           k4, [BLUE, LBLUE, ORANGE, PURPLE], [4.5, 4.5, 8, 4.5], legend(2024, 46.5, 19))
t, v = unzip(P4_LB); p4.line(line_df(t, v, k4[1]))
p4.line(line_df(grid(P4_BLUE), P4_BLUE, k4[0]))
or_df = pd.DataFrame({"t": [r[0] for r in P4_OR], "v": [r[1] for r in P4_OR], "lo": [r[2] for r in P4_OR],
                      "hi": [r[3] for r in P4_OR], "g": [r[4] for r in P4_OR], "s": k4[2]})
pu_df = pd.DataFrame({"t": [r[0] for r in P4_PUR], "v": [r[1] for r in P4_PUR], "lo": [r[2] for r in P4_PUR],
                      "hi": [r[3] for r in P4_PUR], "g": [r[4] for r in P4_PUR], "s": k4[3]})
p4.band(or_df, ORANGE, 0.2)
p4.band(pu_df, PURPLE, 0.2)
p4.vbars(P4_MARK_T, P4_MARK_OLO, P4_MARK_OHI, ORANGE, 0.2, 15)
p4.vbars(P4_MARK_T, P4_MARK_PLO, P4_MARK_PHI, PURPLE, 0.2, 15)
p4.line(or_df)
p4.line(pu_df)
mk = pd.DataFrame({"t": P4_MARK_T, "v": P4_MARK_V})
p4.layers.append(alt.Chart(mk).mark_point(shape="M-1,-1L1,1M-1,1L1,-1", filled=False, size=400,
                                          strokeWidth=4.5, color=PURPLE, opacity=1).encode(x=p4.x(), y=p4.y()))
p4.spans(P4_GRAY, "#CCCCCC", 0.5)

# ============ Panel 5 ============
p5 = Panel([-0.515, 11.525], [0, 2, 4, 6, 8, 10], "d", "MWR Phy Iter DQ Flag", -122)
fl = pd.DataFrame({"t": [(k + P5_OFFSET_MIN) / P5_MINUTES_PER_HOUR for k, c in enumerate(P5_FLAGS) if c != "."],
                   "v": [int(c) for c in P5_FLAGS if c != "."]})
p5.layers.append(alt.Chart(fl).mark_circle(color=ORANGE, size=50, opacity=1).encode(x=p5.x(), y=p5.y()))

chart = alt.vconcat(p1.chart(), p2.chart(), p3.chart(), p4.chart(), p5.chart(),
                    spacing=217, bounds="flush").resolve_scale(
    color="independent", strokeWidth="independent", x="independent", y="independent").resolve_legend(
    color="independent", strokeWidth="independent").properties(
    padding={"left": 167, "top": 286, "right": 40, "bottom": 40}, background="white").configure_view(
    stroke="transparent")

chart.save("out.html", embed_options={"renderer": "svg", "actions": False})
